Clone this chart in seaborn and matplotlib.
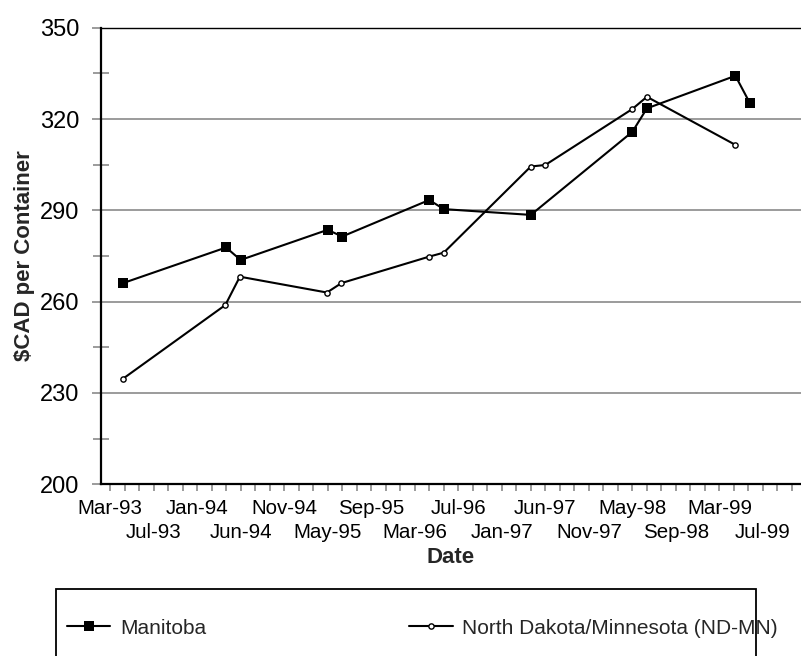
import numpy as np
import pandas as pd
import matplotlib
matplotlib.use("Agg")
import matplotlib.pyplot as plt
from matplotlib.patches import Rectangle
import seaborn as sns

# period index on the (Excel-style) category axis, one step per minor tick
manitoba_period = [0.9, 8, 9, 15, 16, 22, 23, 29, 36, 37, 43.1, 44.1]
manitoba_price = [266.1, 277.8, 273.7, 283.6, 281.4, 293.4, 290.4, 288.5,
                  315.8, 323.5, 334.2, 325.2]

ndmn_period = [0.9, 7.95, 8.95, 14.95, 15.95, 22, 23, 29, 30, 36, 37, 43.1]
ndmn_price = [234.7, 258.9, 268.2, 263.0, 266.1, 274.8, 276.1, 304.4, 304.9,
              323.3, 327.3, 311.5]

date_labels = ["Mar-93", "Jul-93", "Jan-94", "Jun-94", "Nov-94", "May-95",
               "Sep-95", "Mar-96", "Jul-96", "Jan-97", "Jun-97", "Nov-97",
               "May-98", "Sep-98", "Mar-99", "Jul-99"]
y_major = [200, 230, 260, 290, 320, 350]
y_minor = [215, 245, 275, 305, 335]

df_mb = pd.DataFrame({"Period": manitoba_period, "Price": manitoba_price})
df_nd = pd.DataFrame({"Period": ndmn_period, "Price": ndmn_price})

sns.set_theme(style="white")
plt.rcParams["font.family"] = ["Liberation Sans", "DejaVu Sans"]

W, H = 801, 656
fig = plt.figure(figsize=(W / 100, H / 100), dpi=100)
ax = fig.add_axes([101 / W, 1 - 484.3 / H, 700 / W, (484.3 - 27.7) / H])

sns.lineplot(data=df_mb, x="Period", y="Price", ax=ax, color="black",
             linewidth=1.5, marker="s", markersize=6.5, markeredgewidth=0,
             label="Manitoba")
sns.lineplot(data=df_nd, x="Period", y="Price", ax=ax, color="black",
             linewidth=1.5, marker="o", markersize=3.8, markerfacecolor="white",
             markeredgecolor="black", markeredgewidth=1.0,
             label="North Dakota/Minnesota (ND-MN)")

ax.set_xlim(-0.62, 47.62)
ax.set_ylim(200, 350)

# y axis
ax.set_yticks(y_major)
ax.set_yticks(y_minor, minor=True)
ax.yaxis.grid(True, which="major", color="#808080", linewidth=1.1)
ax.xaxis.grid(False)
ax.tick_params(axis="y", which="major", direction="out", length=6.5,
               width=1.1, color="#808080", labelsize=17, pad=9,
               labelcolor="black", left=True)
ax.tick_params(axis="y", which="minor", direction="inout", length=11,
               width=1.1, color="#808080", left=True)

# x axis: a label every third tick, staggered in two rows
# row 1 -> major ticks, row 2 -> labelled minor ticks with a bigger pad
all_ticks = np.arange(0, 48)
row1_pos = np.arange(0, len(date_labels), 2) * 3
row1_lab = date_labels[0::2]
row2 = {i * 3: date_labels[i] for i in range(1, len(date_labels), 2)}
minor_pos = np.setdiff1d(all_ticks, row1_pos)
ax.set_xticks(row1_pos, row1_lab)
ax.set_xticks(minor_pos, [row2.get(p, "") for p in minor_pos], minor=True)
ax.tick_params(axis="x", which="both", direction="out", length=5,
               width=1.1, color="#808080", bottom=True, labelsize=14.8,
               labelcolor="black")
ax.tick_params(axis="x", which="major", pad=5.3)
ax.tick_params(axis="x", which="minor", pad=22.6)

for side in ["left", "bottom"]:
    ax.spines[side].set_color("black")
    ax.spines[side].set_linewidth(1.6)
ax.spines["top"].set_color("black")
ax.spines["top"].set_linewidth(1.0)
ax.spines["right"].set_visible(False)

ax.set_xlabel("Date", fontsize=16, fontweight="bold")
ax.set_ylabel("$CAD per Container", fontsize=16, fontweight="bold")
ax.xaxis.set_label_coords(0.5, -0.138)
ax.yaxis.set_label_coords(-0.094, 0.5)

# legend below the plot, with a frame drawn by hand
handles, labels = ax.get_legend_handles_labels()
ax.legend(handles, labels, loc="center left",
          bbox_to_anchor=(67 / W, 1 - 628 / H), bbox_transform=fig.transFigure,
          ncol=2, frameon=False, borderpad=0, borderaxespad=0,
          handlelength=2.07, handletextpad=0.48, columnspacing=9.75,
          fontsize=15)
fig.patches.append(Rectangle((55.7 / W, 1 - 670 / H), (756 - 55.7) / W,
                             81 / H, transform=fig.transFigure, fill=False,
                             edgecolor="black", linewidth=1.3))

fig.savefig("out.png", dpi=100)
